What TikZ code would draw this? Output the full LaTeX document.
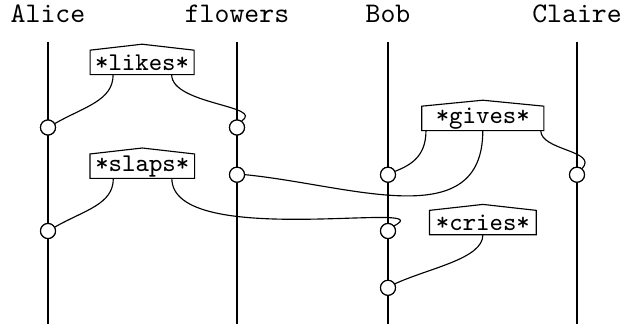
\documentclass[tikz,border=0pt]{standalone}
\begin{document}
\begin{tikzpicture}[x=0.352pt,y=-0.352pt,
  lifeline/.style={line width=0.4pt},
  wire/.style={line width=0.4pt},
  port/.style={circle,draw,fill=white,inner sep=0pt,minimum size=5.28pt,line width=0.4pt},
  gate/.style={inner sep=0pt,font=\small\ttfamily,minimum height=8.2pt},
  outline/.style={draw,fill=white,line width=0.4pt},
  who/.style={inner sep=0pt,anchor=base,font=\ttfamily}]
\useasboundingbox (0,0) rectangle (622,324);

% labels
\node[who] (lA) at (48,22.7) {Alice};
\node[who] (lF) at (237,22.7) {flowers};
\node[who] (lB) at (388,22.7) {Bob};
\node[who] (lC) at (577,22.7) {Claire};

% lifeline ends
\coordinate (tA) at (48,42);   \coordinate (bA) at (48,324);
\coordinate (tF) at (237,42);  \coordinate (bF) at (237,324);
\coordinate (tB) at (388,42);  \coordinate (bB) at (388,324);
\coordinate (tC) at (577,42);  \coordinate (bC) at (577,324);
\draw[lifeline] (tA) -- (bA);
\draw[lifeline] (tF) -- (bF);
\draw[lifeline] (tB) -- (bB);
\draw[lifeline] (tC) -- (bC);

% gates: box with a shallow roof
\path (142.1,62.4) node[gate,minimum width=36.2pt] (likes) {\phantom{*likes*}};
\path (142.3,166.2) node[gate,minimum width=36.4pt] (slaps) {\phantom{*slaps*}};
\path (482.8,118.4) node[gate,minimum width=42.6pt] (gives) {\phantom{*gives*}};
\path (482.9,222.6) node[gate,minimum width=37.2pt] (cries) {\phantom{*cries*}};
\foreach \g/\t in {likes/*likes*,slaps/*slaps*,gives/*gives*,cries/*cries*}{
  \draw[outline] (\g.south west) -- (\g.north west) -- ([yshift=2.1pt]\g.north)
     -- (\g.north east) -- (\g.south east) -- cycle;
  \node[gate] at (\g.center) {\t};
}

% ports
\path (48,127.5) node[port] (a1) {}
      (237,127.5) node[port] (f1) {}
      (48,231) node[port] (a2) {}
      (237,174.7) node[port] (f2) {}
      (388,174.7) node[port] (b1) {}
      (577,174.7) node[port] (c1) {}
      (388,231) node[port] (b2) {}
      (388,287.8) node[port] (b3) {};

% wires
\draw[wire] ([xshift=-10.2pt]likes.south) .. controls +(0,26) and +(30,-17) .. (a1.30);
\draw[wire] ([xshift=10.4pt]likes.south) .. controls +(0,30) and +(23.7,-15.4) .. (f1.55);
\draw[wire] ([xshift=-10.2pt]slaps.south) .. controls +(0,26) and +(30,-17) .. (a2.30);
\draw[wire] ([xshift=10.4pt]slaps.south) .. controls +(0,72) and +(50.8,-26.2) .. (b2.40);
\draw[wire] ([xshift=-20pt]gives.south) .. controls +(0,28) and +(12.7,-5.5) .. (b1.25);
\draw[wire] (gives.south) .. controls +(0,105) and +(105.5,10.3) .. (f2.east);
\draw[wire] ([xshift=20.4pt]gives.south) .. controls +(0,20) and +(16.2,-18) .. (c1.50);
\draw[wire] (cries.south) .. controls +(0,24) and +(35,-16) .. (b3.30);

% redraw ports on top of the wire ends
\foreach \p in {a1,f1,a2,f2,b1,c1,b2,b3}
  \node[port] at (\p.center) {};
\end{tikzpicture}
\end{document}
